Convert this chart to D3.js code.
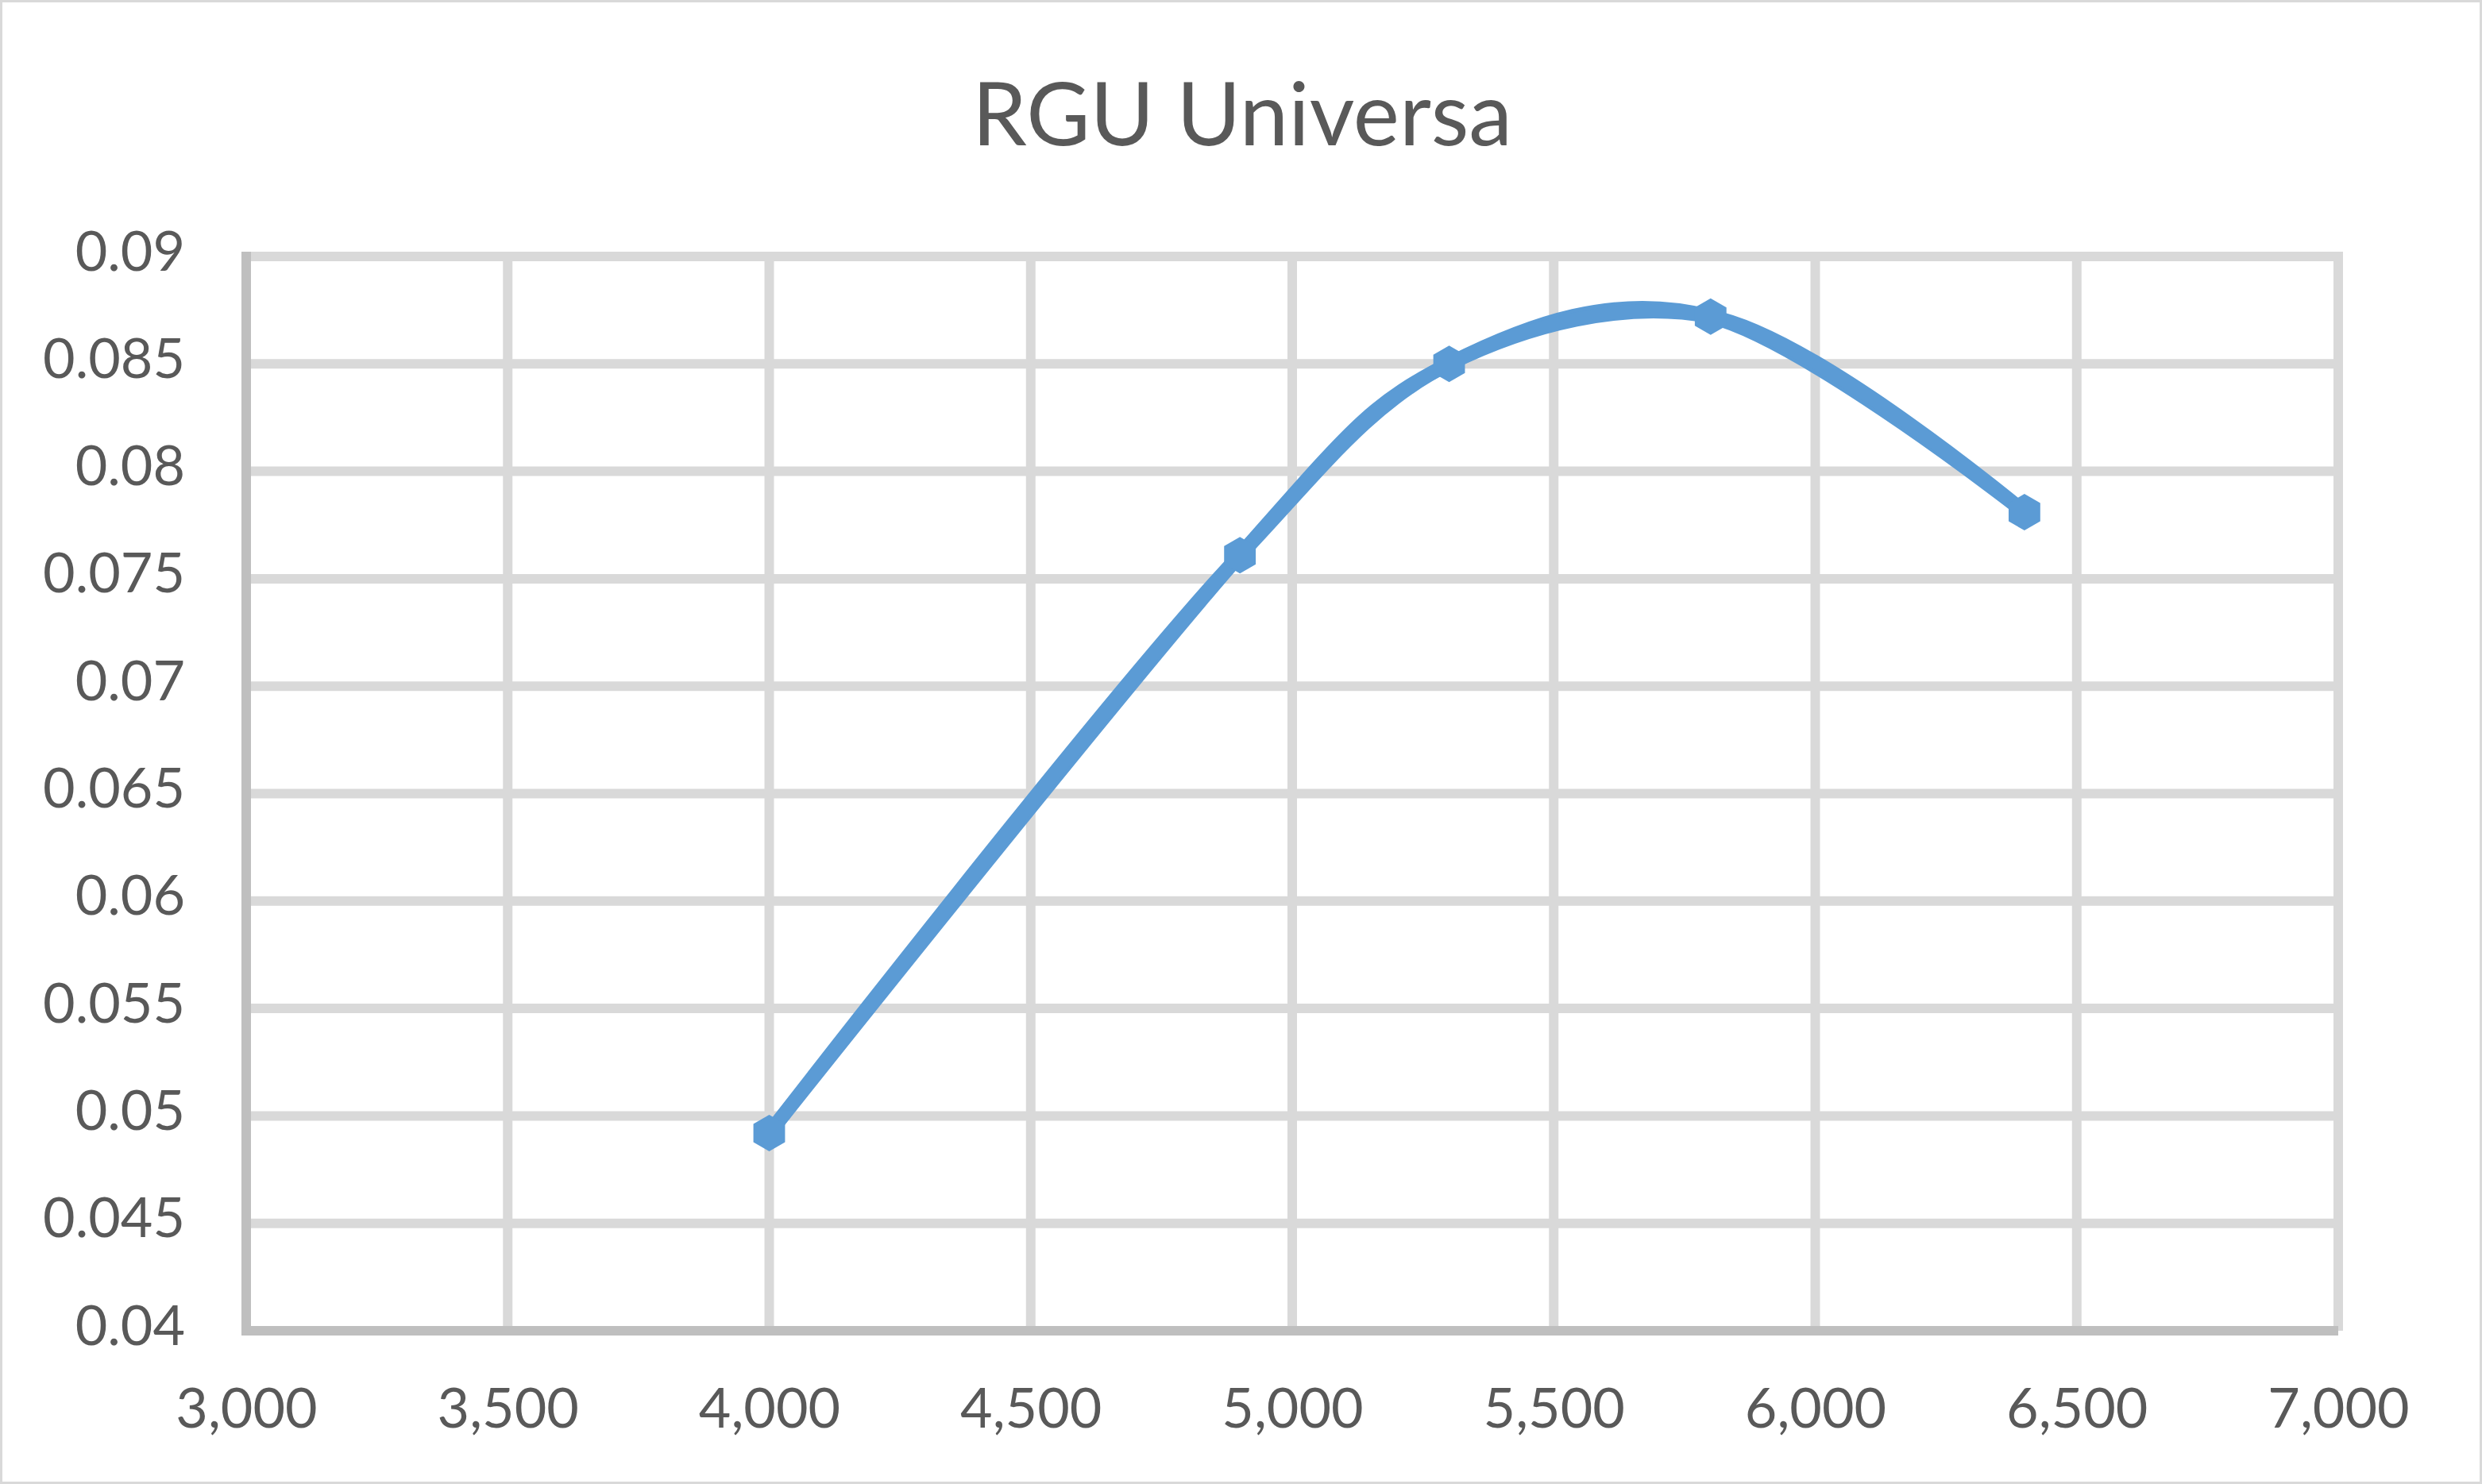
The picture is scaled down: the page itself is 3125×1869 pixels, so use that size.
<!DOCTYPE html>
<html>
<head>
<meta charset="utf-8">
<script src="https://cdn.jsdelivr.net/npm/d3@7"></script>
<style>
  html, body { margin: 0; padding: 0; background: #fff; }
  svg { display: block; }
</style>
</head>
<body>
<svg id="chart" width="3125" height="1869"></svg>
<script>
const title = "RGU Universa";
const xValues = [4000, 4900, 5300, 5800, 6400];
const yValues = [0.0492, 0.0761, 0.0850, 0.0872, 0.0781];
const xTicks = [3000, 3500, 4000, 4500, 5000, 5500, 6000, 6500, 7000];
const yTicks = [0.04, 0.045, 0.05, 0.055, 0.06, 0.065, 0.07, 0.075, 0.08, 0.085, 0.09];
const yTickLabels = ["0.04", "0.045", "0.05", "0.055", "0.06", "0.065", "0.07", "0.075", "0.08", "0.085", "0.09"];

const W = 3125, H = 1869;
const margin = { left: 310, right: W - 2944, top: 323, bottom: H - 1676 };
const svg = d3.select("#chart");
const font = "Lato, 'Open Sans', sans-serif";

svg.append("rect").attr("x", 1.5).attr("y", 1.5).attr("width", W - 3).attr("height", H - 3)
  .attr("fill", "#fff").attr("stroke", "#d9d9d9").attr("stroke-width", 3);

const x = d3.scaleLinear().domain([3000, 7000]).range([margin.left, W - margin.right]);
const y = d3.scaleLinear().domain([0.04, 0.09]).range([H - margin.bottom, margin.top]);

// gridlines
const grid = svg.append("g");
grid.selectAll("line.h").data(yTicks.slice(1)).join("line")
  .attr("x1", x(3000)).attr("x2", x(7000) + 6)
  .attr("y1", d => y(d)).attr("y2", d => y(d))
  .attr("stroke", "#d9d9d9").attr("stroke-width", 12);
grid.selectAll("line.v").data(xTicks.slice(1)).join("line")
  .attr("x1", d => x(d)).attr("x2", d => x(d))
  .attr("y1", y(0.09) - 6).attr("y2", y(0.04))
  .attr("stroke", "#d9d9d9").attr("stroke-width", 12);

// axes
svg.append("line").attr("x1", x(3000)).attr("x2", x(3000))
  .attr("y1", y(0.09) - 6).attr("y2", y(0.04) + 6)
  .attr("stroke", "#bfbfbf").attr("stroke-width", 12);
svg.append("line").attr("x1", x(3000) - 6).attr("x2", x(7000))
  .attr("y1", y(0.04)).attr("y2", y(0.04))
  .attr("stroke", "#bfbfbf").attr("stroke-width", 12);

// tick labels
const yAxis = d3.axisLeft(y).tickValues(yTicks).tickFormat((d, i) => yTickLabels[i]).tickSize(0).tickPadding(0);
const gy = svg.append("g").attr("transform", `translate(${233},0)`).call(yAxis);
gy.select(".domain").remove();
gy.selectAll("text").attr("font-family", font).attr("font-size", 70).attr("fill", "#595959")
  .attr("dy", null).attr("y", 17).attr("x", 0).attr("text-anchor", "end");

const xAxis = d3.axisBottom(x).tickValues(xTicks).tickFormat(d3.format(",")).tickSize(0).tickPadding(0);
const gx = svg.append("g").attr("transform", `translate(0,${y(0.04)})`).call(xAxis);
gx.select(".domain").remove();
gx.selectAll("text").attr("font-family", font).attr("font-size", 70).attr("fill", "#595959")
  .attr("dy", null).attr("y", 122);

// title
svg.append("text").attr("x", 1564).attr("y", 183).attr("text-anchor", "middle")
  .attr("font-family", font).attr("font-size", 110).attr("fill", "#595959").text(title);

// series
const pts = xValues.map((v, i) => [v, yValues[i]]);
const line1 = d3.line().x(d => x(d[0])).y(d => y(d[1])).curve(d3.curveCardinal.tension(0));
const line2 = d3.line().x(d => x(d[0])).y(d => y(d[1])).curve(d3.curveCatmullRom.alpha(0.5));
svg.append("path").attr("d", line1(pts)).attr("fill", "none")
  .attr("stroke", "#5b9bd5").attr("stroke-width", 18).attr("stroke-linejoin", "miter");
svg.append("path").attr("d", line2(pts)).attr("fill", "none")
  .attr("stroke", "#5b9bd5").attr("stroke-width", 18).attr("stroke-linejoin", "miter");

// hexagon markers
const hexR = 23;
const hex = d3.range(6).map(k => {
  const a = Math.PI / 6 + k * Math.PI / 3;
  return [hexR * Math.cos(a), hexR * Math.sin(a)];
});
svg.append("g").selectAll("path").data(pts).join("path")
  .attr("transform", d => `translate(${x(d[0])},${y(d[1])})`)
  .attr("d", d3.line()(hex) + "Z")
  .attr("fill", "#5b9bd5");
</script>
</body>
</html>
